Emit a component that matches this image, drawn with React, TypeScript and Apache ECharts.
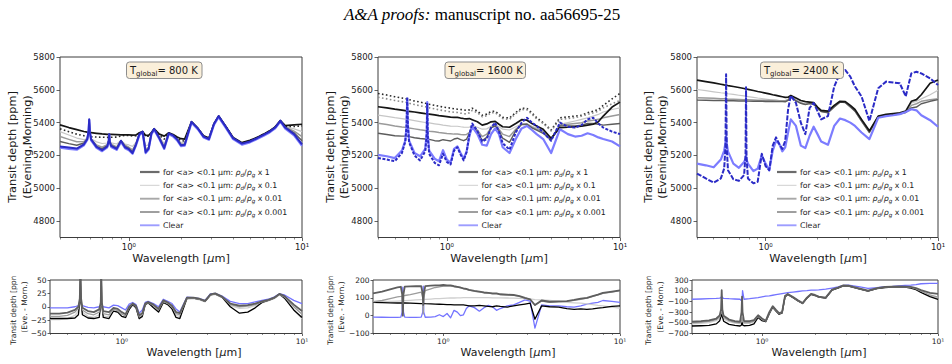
import React, { useEffect, useRef } from 'react';
import * as echarts from 'echarts';

// Wavelength sampling (micron) shared by every spectrum below.
const WAVE = [
  0.40, 0.45, 0.50, 0.55, 0.575, 0.585, 0.59, 0.595, 0.605,
  0.65, 0.70, 0.75, 0.765, 0.77, 0.775, 0.79,
  0.85, 0.90, 0.95, 1.00, 1.05, 1.10, 1.15, 1.20, 1.25, 1.30, 1.35, 1.40,
  1.50, 1.60, 1.70, 1.80, 1.90, 2.00, 2.10, 2.30, 2.50, 2.70, 2.90, 3.10,
  3.30, 3.60, 4.00, 4.50, 5.00, 5.50, 6.00, 6.50, 7.00, 7.50, 8.00, 9.00, 10.0,
];

// ---- T_global = 800 K, transit depth [ppm] ----
const D800_X1 = [
  5386, 5370, 5357, 5346, 5342, 5341, 5341, 5340, 5339,
  5335, 5331, 5329, 5329, 5329, 5328, 5328,
  5327, 5326, 5325, 5325, 5324, 5325, 5338, 5346, 5322, 5323, 5340, 5362,
  5330, 5318, 5338, 5328, 5312, 5302, 5300, 5405, 5366, 5320, 5306, 5393,
  5440, 5383, 5310, 5278, 5292, 5310, 5330, 5350, 5374, 5412, 5382, 5386, 5390,
];
const D800_X1_MORN = [
  5362, 5345, 5330, 5320, 5316, 5315, 5315, 5314, 5314,
  5312, 5311, 5310, 5310, 5310, 5310, 5311,
  5312, 5318, 5322, 5322, 5318, 5320, 5336, 5344, 5316, 5318, 5338, 5360,
  5322, 5300, 5336, 5325, 5306, 5290, 5288, 5404, 5365, 5318, 5303, 5391,
  5438, 5381, 5307, 5275, 5289, 5308, 5328, 5348, 5372, 5410, 5378, 5376, 5380,
];
const D800_X01 = [
  5345, 5325, 5306, 5296, 5304, 5330, 5400, 5330, 5302,
  5283, 5273, 5276, 5295, 5325, 5290, 5277,
  5270, 5292, 5270, 5264, 5255, 5280, 5332, 5345, 5258, 5266, 5337, 5362,
  5314, 5272, 5335, 5324, 5302, 5280, 5280, 5405, 5366, 5317, 5302, 5392,
  5440, 5381, 5307, 5274, 5288, 5307, 5327, 5347, 5372, 5411, 5376, 5362, 5345,
];
const D800_X001 = [
  5315, 5298, 5283, 5285, 5302, 5340, 5410, 5338, 5300,
  5264, 5250, 5266, 5292, 5328, 5288, 5268,
  5252, 5290, 5262, 5250, 5234, 5274, 5331, 5345, 5238, 5250, 5336, 5362,
  5310, 5256, 5335, 5323, 5300, 5270, 5270, 5405, 5366, 5316, 5301, 5392,
  5440, 5381, 5306, 5273, 5287, 5306, 5326, 5346, 5371, 5411, 5374, 5348, 5315,
];
const D800_X0001 = [
  5285, 5272, 5262, 5276, 5301, 5345, 5415, 5342, 5299,
  5256, 5240, 5260, 5291, 5330, 5287, 5262,
  5244, 5290, 5255, 5243, 5222, 5270, 5331, 5345, 5226, 5244, 5335, 5362,
  5306, 5248, 5335, 5322, 5299, 5265, 5267, 5405, 5365, 5315, 5300, 5392,
  5440, 5380, 5305, 5272, 5286, 5305, 5325, 5345, 5370, 5411, 5372, 5338, 5290,
];
const D800_CLEAR = [
  5248, 5240, 5235, 5262, 5295, 5345, 5415, 5340, 5292,
  5246, 5226, 5250, 5285, 5325, 5280, 5252,
  5234, 5282, 5244, 5232, 5210, 5262, 5324, 5340, 5214, 5236, 5330, 5356,
  5300, 5240, 5330, 5316, 5292, 5256, 5260, 5400, 5360, 5310, 5295, 5386,
  5434, 5374, 5300, 5266, 5280, 5300, 5320, 5340, 5365, 5406, 5364, 5322, 5258,
];
const D800_CLEAR_MORN = [
  5255, 5248, 5242, 5268, 5300, 5350, 5420, 5345, 5298,
  5252, 5232, 5255, 5290, 5330, 5285, 5258,
  5240, 5290, 5250, 5238, 5215, 5268, 5330, 5345, 5220, 5242, 5335, 5362,
  5305, 5245, 5335, 5322, 5298, 5262, 5265, 5405, 5365, 5315, 5300, 5392,
  5440, 5380, 5305, 5272, 5285, 5305, 5325, 5345, 5370, 5412, 5370, 5330, 5268,
];

// ---- T_global = 1600 K ----
const D1600_X1 = [
  5497, 5490, 5482, 5476, 5473, 5472, 5471, 5470, 5469,
  5465, 5460, 5455, 5454, 5454, 5453, 5452,
  5447, 5443, 5440, 5437, 5434, 5432, 5432, 5428, 5425, 5423, 5425, 5418,
  5405, 5385, 5392, 5405, 5408, 5390, 5375, 5372, 5395, 5418, 5415, 5395,
  5380, 5360, 5305, 5370, 5372, 5375, 5378, 5385, 5390, 5405, 5440, 5495, 5525,
];
const D1600_X1_MORN = [
  5578, 5568, 5558, 5550, 5546, 5545, 5545, 5544, 5540,
  5532, 5525, 5518, 5517, 5516, 5515, 5512,
  5505, 5500, 5495, 5492, 5488, 5485, 5482, 5480, 5478, 5475, 5478, 5488,
  5470, 5445, 5452, 5468, 5470, 5450, 5432, 5428, 5462, 5488, 5486, 5460,
  5430, 5400, 5355, 5430, 5435, 5440, 5445, 5460, 5470, 5480, 5505, 5545, 5578,
];
const D1600_X01_MORN = [
  5555, 5545, 5535, 5528, 5524, 5523, 5523, 5522, 5518,
  5510, 5503, 5497, 5496, 5496, 5495, 5490,
  5484, 5478, 5474, 5470, 5466, 5463, 5462, 5458, 5455, 5453, 5460, 5475,
  5460, 5436, 5442, 5460, 5462, 5442, 5425, 5420, 5455, 5480, 5478, 5452,
  5422, 5395, 5350, 5420, 5425, 5430, 5440, 5450, 5460, 5470, 5490, 5515, 5535,
];
const D1600_X01 = [
  5446, 5438, 5430, 5424, 5421, 5420, 5420, 5419, 5418,
  5412, 5406, 5401, 5400, 5400, 5399, 5398,
  5393, 5389, 5385, 5382, 5379, 5378, 5378, 5375, 5373, 5372, 5373, 5380,
  5372, 5360, 5362, 5378, 5385, 5375, 5360, 5355, 5375, 5392, 5392, 5378,
  5368, 5352, 5300, 5390, 5400, 5410, 5420, 5430, 5440, 5450, 5465, 5480, 5490,
];
const D1600_X001 = [
  5396, 5388, 5380, 5374, 5372, 5371, 5371, 5370, 5368,
  5362, 5356, 5352, 5351, 5351, 5350, 5348,
  5344, 5340, 5337, 5334, 5332, 5330, 5331, 5328, 5326, 5328, 5340, 5378,
  5355, 5315, 5330, 5370, 5382, 5360, 5330, 5315, 5360, 5390, 5392, 5372,
  5360, 5345, 5300, 5385, 5390, 5395, 5400, 5410, 5415, 5420, 5430, 5440, 5450,
];
const D1600_X0001 = [
  5335, 5328, 5320, 5318, 5318, 5318, 5318, 5317, 5315,
  5308, 5303, 5300, 5300, 5300, 5299, 5298,
  5290, 5288, 5296, 5292, 5288, 5300, 5305, 5296, 5290, 5300, 5335, 5376,
  5345, 5290, 5310, 5368, 5380, 5350, 5305, 5280, 5352, 5388, 5390, 5368,
  5355, 5335, 5295, 5380, 5380, 5380, 5385, 5395, 5395, 5390, 5385, 5390, 5395,
];
const D1600_CLEAR = [
  5204, 5195, 5184, 5230, 5290, 5380, 5545, 5390, 5290,
  5215, 5195, 5240, 5340, 5525, 5330, 5230,
  5180, 5165, 5232, 5175, 5155, 5240, 5255, 5215, 5180, 5225, 5320, 5375,
  5330, 5265, 5260, 5330, 5365, 5330, 5250, 5215, 5300, 5365, 5380, 5355,
  5330, 5300, 5215, 5360, 5330, 5315, 5320, 5335, 5325, 5310, 5300, 5285, 5255,
];
const D1600_CLEAR_MORN = [
  5185, 5175, 5165, 5215, 5285, 5380, 5555, 5385, 5280,
  5200, 5170, 5225, 5330, 5520, 5320, 5210,
  5155, 5140, 5210, 5160, 5145, 5230, 5250, 5205, 5170, 5220, 5330, 5395,
  5350, 5285, 5300, 5370, 5400, 5345, 5275, 5235, 5340, 5400, 5430, 5400,
  5380, 5340, 5290, 5400, 5375, 5370, 5385, 5420, 5430, 5395, 5370, 5345, 5330,
];

// ---- T_global = 2400 K ----
const D2400_X1 = [
  5659, 5650, 5642, 5634, 5630, 5629, 5629, 5628, 5626,
  5620, 5614, 5608, 5606, 5606, 5605, 5603,
  5596, 5590, 5585, 5580, 5575, 5570, 5566, 5562, 5558, 5554, 5555, 5565,
  5550, 5535, 5528, 5525, 5522, 5495, 5475, 5470, 5505, 5530, 5528, 5505,
  5480, 5420, 5350, 5440, 5450, 5455, 5460, 5470, 5530, 5540, 5570, 5640, 5660,
];
const D2400_X01 = [
  5602, 5595, 5588, 5582, 5580, 5579, 5579, 5578, 5576,
  5572, 5567, 5563, 5562, 5562, 5560, 5558,
  5554, 5550, 5547, 5544, 5541, 5539, 5537, 5535, 5533, 5531, 5540, 5562,
  5540, 5522, 5515, 5520, 5518, 5492, 5472, 5465, 5500, 5528, 5526, 5500,
  5475, 5415, 5345, 5438, 5448, 5452, 5458, 5468, 5520, 5530, 5545, 5570, 5598,
];
const D2400_X001 = [
  5552, 5550, 5548, 5546, 5545, 5545, 5545, 5544, 5543,
  5542, 5541, 5540, 5540, 5540, 5539, 5539,
  5538, 5537, 5537, 5536, 5536, 5535, 5535, 5534, 5534, 5533, 5540, 5560,
  5535, 5520, 5512, 5518, 5515, 5490, 5470, 5462, 5498, 5526, 5524, 5498,
  5472, 5412, 5342, 5436, 5446, 5450, 5455, 5465, 5505, 5515, 5530, 5540, 5545,
];
const D2400_X0001 = [
  5537, 5536, 5535, 5535, 5534, 5534, 5534, 5534, 5533,
  5533, 5532, 5532, 5532, 5532, 5531, 5531,
  5530, 5530, 5530, 5529, 5529, 5529, 5528, 5528, 5528, 5527, 5535, 5558,
  5532, 5518, 5510, 5516, 5512, 5488, 5468, 5460, 5496, 5525, 5522, 5495,
  5470, 5410, 5340, 5435, 5445, 5448, 5452, 5462, 5490, 5495, 5515, 5530, 5540,
];
const D2400_CLEAR = [
  5150, 5140, 5128, 5175, 5230, 5275, 5318, 5275, 5225,
  5150, 5125, 5160, 5180, 5200, 5175, 5150,
  5105, 5120, 5200, 5150, 5110, 5230, 5290, 5270, 5225, 5250, 5340, 5420,
  5380, 5260, 5245, 5320, 5375, 5330, 5285, 5265, 5380, 5425, 5415, 5400,
  5380, 5340, 5300, 5430, 5440, 5445, 5452, 5465, 5482, 5475, 5445, 5415, 5375,
];
const D2400_CLEAR_MORN = [
  5090, 5060, 5035, 5060, 5120, 5250, 5695, 5250, 5110,
  5055, 5045, 5080, 5200, 5615, 5190, 5060,
  5030, 5040, 5210, 5135, 5110, 5260, 5310, 5270, 5240, 5290, 5480, 5565,
  5520, 5400, 5330, 5490, 5520, 5470, 5420, 5440, 5620, 5700, 5720, 5680,
  5620, 5560, 5410, 5610, 5650, 5645, 5640, 5560, 5700, 5710, 5700, 5670, 5630,
];

// ---- Evening minus morning [ppm] ----
const R800_CLEAR = [
  -2, -2, -2, 0, 2, 6, 10, 6, 2,
  -1, -2, 0, 3, 6, 3, 0,
  -2, 3, 2, -2, -6, 5, 8, 4, -12, -6, 8, 10,
  6, 0, 14, 10, 6, -4, -10, 18, 17, 15, 12, 24,
  25, 20, 10, 6, 6, 9, 12, 14, 18, 24, 22, 12, 6,
];
const R800_X1 = [
  -13, -13, -11, -6, 0, 15, 60, 15, -2,
  -8, -10, -5, 8, 60, 8, -8,
  -10, -2, -4, -10, -14, 0, 6, 2, -16, -12, 6, 9,
  4, -4, 12, 8, 2, -10, -12, 17, 17, 15, 11, 23,
  25, 19, 6, 2, 3, 6, 10, 13, 17, 24, 20, 4, -8,
];
const R800_X01 = [
  -24, -24, -22, -16, -8, 5, 30, 5, -10,
  -18, -20, -15, 0, 30, 0, -17,
  -19, -8, -10, -18, -21, -5, 3, -2, -23, -19, 3, 6,
  0, -9, 8, 4, -3, -16, -18, 14, 15, 13, 9, 21,
  23, 17, 2, -3, -2, 2, 7, 11, 15, 22, 16, -6, -22,
];
const R800_X001 = [
  -18, -18, -16, -10, -3, 12, 50, 12, -6,
  -13, -15, -10, 4, 50, 4, -13,
  -15, -5, -7, -14, -17, -2, 5, 0, -19, -15, 5, 8,
  2, -6, 10, 6, 0, -13, -15, 16, 16, 14, 10, 22,
  24, 18, 4, 0, 1, 4, 9, 12, 16, 23, 18, 0, -14,
];
const R800_X0001 = [
  -22, -22, -22, -21, -15, 10, 60, 10, -15,
  -21, -22, -20, 5, 60, 5, -20,
  -22, -8, -10, -18, -20, -5, 4, -2, -22, -18, 4, 8,
  -2, -10, 8, 4, -4, -20, -22, 16, 16, 14, 10, 22,
  24, 18, 0, -12, -10, -2, 8, 12, 16, 24, 16, -6, -20,
];

const R1600_CLEAR = [
  -8, -9, -10, -10, -8, 20, 160, 20, -8,
  -10, -10, -8, 20, 165, 20, -9,
  -8, -5, 5, -5, 12, -12, 30, 20, 0, 5, 40, 55,
  45, 25, 45, 58, 50, 30, 40, 55, 60, 75, 88, 82,
  -70, 60, 55, 55, 50, 48, 55, 65, 70, 75, 85, 80, 75,
];
const R1600_X1 = [
  125, 135, 148, 158, 162, 120, 0, 120, 163,
  164, 165, 166, 120, 60, 120, 166,
  168, 170, 170, 172, 170, 170, 165, 162, 158, 153, 150, 145,
  139, 135, 130, 128, 125, 125, 120, 118, 116, 110, 100, 92,
  60, 85, 78, 80, 82, 88, 95, 100, 110, 118, 128, 135, 142,
];
const R1600_X01 = [
  76, 78, 80, 82, 83, 83, 84, 84, 84,
  86, 88, 90, 90, 90, 90, 91,
  93, 95, 96, 97, 98, 99, 99, 100, 100, 101, 101, 101,
  101, 101, 101, 101, 100, 100, 100, 99, 98, 97, 96, 94,
  90, 88, 85, 80, 75, 72, 70, 66, 62, 58, 55, 48, 42,
];
const R1600_X001 = [
  78, 85, 95, 105, 108, 110, 112, 112, 113,
  118, 125, 132, 100, 10, 100, 140,
  150, 158, 162, 166, 166, 166, 163, 160, 156, 151, 148, 143,
  137, 133, 128, 126, 123, 123, 118, 116, 114, 108, 98, 90,
  58, 82, 75, 77, 80, 86, 92, 98, 108, 116, 125, 132, 140,
];
const R1600_X0001 = [
  74, 73, 72, 71, 71, 71, 71, 71, 71,
  70, 69, 68, 68, 68, 68, 67,
  66, 65, 64, 63, 62, 62, 61, 61, 60, 60, 58, 55,
  55, 58, 55, 52, 50, 55, 52, 48, 55, 60, 65, 70,
  -20, 55, 50, 48, 40, 35, 38, 35, 38, 42, 45, 52, 55,
];

const R2400_CLEAR = [
  -60, -55, -50, -45, -40, -30, -5, -30, -42,
  -50, -55, -60, -90, -100, 100, -60,
  -50, -40, -30, -15, 0, 5, 15, 25, 35, 45, 55, 65,
  75, 85, 95, 100, 110, 112, 115, 130, 150, 170, 200, 205,
  190, 170, 145, 155, 175, 180, 190, 200, 205, 215, 230, 238, 238,
];
const R2400_X1 = [
  -480, -470, -455, -420, -360, -250, 110, -250, -370,
  -440, -470, -480, -300, -10, -300, -470,
  -470, -450, -360, -420, -460, -300, -190, -260, -320, -300, 0, 40,
  -20, -80, -130, -30, 40, 20, -10, -30, 120, 160, 200, 195,
  170, 140, 100, 150, 170, 175, 180, 175, 170, 150, 110, 60, 40,
];
const R2400_X01 = [
  -520, -510, -495, -460, -420, -350, -310, -350, -430,
  -480, -505, -515, -500, -420, -500, -510,
  -510, -485, -390, -450, -475, -325, -205, -275, -335, -315, -15, 32,
  -28, -88, -138, -38, 32, 12, -18, -38, 112, 152, 192, 188,
  162, 132, 92, 142, 162, 168, 172, 168, 158, 130, 85, 10, -40,
];
const R2400_X001 = [
  -500, -490, -475, -440, -390, -320, -300, -320, -400,
  -460, -490, -500, -480, -400, -480, -495,
  -495, -470, -380, -440, -470, -320, -200, -270, -330, -310, -10, 35,
  -25, -85, -135, -35, 35, 15, -15, -35, 115, 155, 195, 190,
  165, 135, 95, 145, 165, 170, 175, 170, 160, 135, 90, 20, -20,
];
const R2400_X0001 = [
  -560, -555, -550, -520, -460, -380, -330, -380, -470,
  -530, -550, -560, -540, -460, -540, -555,
  -550, -520, -400, -460, -480, -330, -210, -280, -340, -320, -20, 30,
  -30, -90, -140, -40, 30, 10, -20, -40, 110, 150, 190, 185,
  160, 130, 90, 140, 160, 165, 170, 165, 150, 120, 70, -10, -60,
];

// Axis ticks
const X_MAJOR = [1, 10];
const X_MINOR = [0.4, 0.5, 0.6, 0.7, 0.8, 0.9, 2, 3, 4, 5, 6, 7, 8, 9];
const Y_TICKS_TOP = [4800, 5000, 5200, 5400, 5600, 5800];
const Y_TICKS_800 = [-50, -25, 0, 25, 50];
const Y_TICKS_1600 = [-100, 0, 100, 200];
const Y_TICKS_2400 = [-700, -500, -300, -100, 100, 300];
const TEMPS = ['800', '1600', '2400'];
const LEGEND_FACTORS = ['1', '0.1', '0.01', '0.001'];

const FONT = 'DejaVu Sans';
const FRAME = '#3c3c3c';
const INK = '#1a1a1a';

type Line = { vals: number[]; color: string; width: number; dash?: any };

const C = {
  black: '#151515',
  light: '#c6c6c6',
  mid: '#9a9a9a',
  dark: '#5c5c5c',
  blueLight: '#7c7cff',
  blueDark: '#2b2bc6',
};

const topLines = (x1: number[], x01: number[], x001: number[], x0001: number[], morn: number[][], clear: number[], clearMorn: number[], mornDash: any): Line[] => [
  { vals: x01, color: C.light, width: 1.2 },
  { vals: x001, color: C.mid, width: 1.5 },
  { vals: x0001, color: C.dark, width: 1.4 },
  ...morn.map((m, i) => ({ vals: m, color: i === 0 ? '#2a2a2a' : '#8a8a8a', width: 1.6, dash: [1.6, 2.4] })),
  { vals: x1, color: C.black, width: 1.7 },
  { vals: clear, color: C.blueLight, width: 2.2 },
  { vals: clearMorn, color: C.blueDark, width: 2, dash: mornDash },
];

const diffLines = (clear: number[], x1: number[], x01: number[], x001: number[], x0001: number[]): Line[] => [
  { vals: clear, color: '#7474ff', width: 1.3 },
  { vals: x01, color: '#cfcfcf', width: 1.3 },
  { vals: x0001, color: '#000000', width: 1.3 },
  { vals: x001, color: '#9c9c9c', width: 1.3 },
  { vals: x1, color: '#5e5e5e', width: 1.8 },
];

const PANELS = [
  { box: { left: 60, top: 57, width: 242, height: 180.5 }, min: 4700, max: 5800, ticks: Y_TICKS_TOP, small: false,
    lines: topLines(D800_X1, D800_X01, D800_X001, D800_X0001, [D800_X1_MORN], D800_CLEAR, D800_CLEAR_MORN, 'solid') },
  { box: { left: 378, top: 57, width: 242, height: 180.5 }, min: 4700, max: 5800, ticks: Y_TICKS_TOP, small: false,
    lines: topLines(D1600_X1, D1600_X01, D1600_X001, D1600_X0001, [D1600_X1_MORN, D1600_X01_MORN], D1600_CLEAR, D1600_CLEAR_MORN, [3, 1.5]) },
  { box: { left: 697, top: 57, width: 241, height: 180.5 }, min: 4700, max: 5800, ticks: Y_TICKS_TOP, small: false,
    lines: topLines(D2400_X1, D2400_X01, D2400_X001, D2400_X0001, [], D2400_CLEAR, D2400_CLEAR_MORN, [5, 1.5]) },
  { box: { left: 50, top: 280, width: 252, height: 53.5 }, min: -50, max: 50, ticks: Y_TICKS_800, small: true,
    lines: diffLines(R800_CLEAR, R800_X1, R800_X01, R800_X001, R800_X0001) },
  { box: { left: 373, top: 280, width: 247, height: 53.5 }, min: -100, max: 200, ticks: Y_TICKS_1600, small: true,
    lines: diffLines(R1600_CLEAR, R1600_X1, R1600_X01, R1600_X001, R1600_X0001) },
  { box: { left: 692, top: 280, width: 246, height: 53.5 }, min: -700, max: 300, ticks: Y_TICKS_2400, small: true,
    lines: diffLines(R2400_CLEAR, R2400_X1, R2400_X01, R2400_X001, R2400_X0001) },
];

const LOG_LO = Math.log10(0.4);
const fmtY = (v: number) => (v < 0 ? '\u2212' + Math.abs(v) : String(v));
const fmtX = (v: number) => (v < 0.5 ? '10\u2070' : '10\u00b9');

function txt(x: number, y: number, text: string, rich: any, align = 'left', rotation = 0) {
  return {
    type: 'text', x, y, rotation, silent: true, z: 10,
    style: { text, rich, align, verticalAlign: 'middle', textAlign: align, textVerticalAlign: 'middle', fill: INK, fontFamily: FONT },
  };
}

function richSet(size: number, subSize: number) {
  return {
    n: { fontSize: size, fontFamily: FONT, fill: INK, lineHeight: size * 1.45 },
    i: { fontSize: size, fontFamily: FONT, fontStyle: 'italic', fill: INK, lineHeight: size * 1.45 },
    s: { fontSize: subSize, fontFamily: FONT, fontStyle: 'italic', fill: INK, verticalAlign: 'bottom' },
    r: { fontSize: subSize, fontFamily: FONT, fill: INK, verticalAlign: 'bottom' },
  };
}

function buildGraphic() {
  const els: any[] = [];
  // page header
  els.push(txt(482, 14, '{i|A&A proofs:}{n| manuscript no. aa56695-25}', {
    i: { fontFamily: 'Liberation Serif', fontStyle: 'italic', fontSize: 17, fill: '#000' },
    n: { fontFamily: 'Liberation Serif', fontSize: 17, fill: '#000' },
  }, 'center'));

  const top = [
    { boxX: 126.5, boxW: 75.5, legX: 140, xlab: 181, yl1: 12.5, yl2: 27.5 },
    { boxX: 445, boxW: 80.5, legX: 458.5, xlab: 499, yl1: 330.5, yl2: 344.5 },
    { boxX: 760.5, boxW: 83, legX: 777, xlab: 818, yl1: 648.5, yl2: 662.5 },
  ];
  const legendStyles = [
    { color: '#6b6b6b', width: 2.2 },
    { color: '#cfcfcf', width: 1 },
    { color: '#a8a8a8', width: 1.9 },
    { color: '#3f3f3f', width: 1 },
    { color: '#9d9dff', width: 1.9 },
  ];
  const legendRows = [172, 185.3, 198.7, 212, 225.3];
  const legRich = richSet(7.8, 5.6);

  top.forEach((t, k) => {
    // temperature tag
    els.push({ type: 'rect', silent: true, z: 9, shape: { x: t.boxX, y: 62, width: t.boxW, height: 16.5, r: 3 },
      style: { fill: '#faefda', stroke: '#8d8d8d', lineWidth: 1 } });
    els.push(txt(t.boxX + 3.5, 70.3, `{n|T}{r|global}{n|= ${TEMPS[k]} K}`, {
      n: { fontSize: 10, fontFamily: FONT, fill: INK, lineHeight: 14 },
      r: { fontSize: 7, fontFamily: FONT, fill: INK, verticalAlign: 'bottom' },
    }));
    // legend
    legendRows.forEach((ly, r) => {
      const st = legendStyles[r];
      els.push({ type: 'line', silent: true, z: 9, shape: { x1: t.legX, y1: ly, x2: t.legX + 19.5, y2: ly },
        style: { stroke: st.color, lineWidth: st.width } });
      const label = r < 4
        ? `{n|for <a> <0.1 \u03bcm: }{i|\u03c1}{s|d}{n|/}{i|\u03c1}{s|g}{n| x ${LEGEND_FACTORS[r]}}`
        : '{n|Clear}';
      els.push(txt(t.legX + 23, ly, label, legRich));
    });
    // axis titles
    els.push(txt(t.xlab, 258.3, '{n|Wavelength [}{i|\u03bc}{n|m]}', richSet(11.3, 8), 'center'));
    els.push(txt(t.yl1, 147, '{n|Transit depth [ppm]}', richSet(11.3, 8), 'center', Math.PI / 2));
    els.push(txt(t.yl2, 147, '{n|(Evening,Morning)}', richSet(11.3, 8), 'center', Math.PI / 2));
  });

  const bottom = [
    { xlab: 194, yl1: 13, yl2: 24.3 },
    { xlab: 508, yl1: 330.3, yl2: 341.7 },
    { xlab: 819, yl1: 648.5, yl2: 660 },
  ];
  bottom.forEach((b) => {
    els.push(txt(b.xlab, 352, '{n|Wavelength [}{i|\u03bc}{n|m]}', richSet(11, 8), 'center'));
    els.push(txt(b.yl1, 307.5, '{n|Transit depth [ppm]}', richSet(7.6, 6), 'center', Math.PI / 2));
    els.push(txt(b.yl2, 307, '{n|(Eve. - Morn.)}', richSet(7.6, 6), 'center', Math.PI / 2));
    // the first label line is cut off at the top of the strip
    els.push({ type: 'rect', silent: true, z: 11, shape: { x: b.yl1 - 8, y: 255, width: 16, height: 21.5 },
      style: { fill: '#ffffff' } });
  });
  return els;
}

function buildOption() {
  const grid = PANELS.map((p) => ({ ...p.box, show: true, borderColor: FRAME, borderWidth: 1, backgroundColor: 'transparent', containLabel: false }));
  const xAxis: any[] = [];
  const yAxis: any[] = [];
  const series: any[] = [];
  PANELS.forEach((p, g) => {
    const tickFont = p.small ? 7.5 : 8.5;
    xAxis.push({
      type: 'value', gridIndex: g, position: 'bottom', min: LOG_LO, max: 1,
      axisLine: { show: false, onZero: false }, splitLine: { show: false },
      axisTick: { show: true, customValues: X_MAJOR.map(Math.log10), length: p.small ? 2.5 : 3.5, lineStyle: { color: FRAME, width: 0.8 } },
      axisLabel: { show: true, customValues: X_MAJOR.map(Math.log10), formatter: fmtX, fontSize: tickFont, fontFamily: FONT, color: INK, margin: p.small ? 3.5 : 5 },
    });
    xAxis.push({
      type: 'value', gridIndex: g, position: 'bottom', min: LOG_LO, max: 1,
      axisLine: { show: false, onZero: false }, splitLine: { show: false },
      axisTick: { show: true, customValues: X_MINOR.map(Math.log10), length: p.small ? 1.5 : 2, lineStyle: { color: FRAME, width: 0.6 } },
      axisLabel: { show: false },
    });
    yAxis.push({
      type: 'value', gridIndex: g, position: 'left', min: p.min, max: p.max,
      axisLine: { show: false, onZero: false }, splitLine: { show: false },
      axisTick: { show: true, customValues: p.ticks, length: p.small ? 2.5 : 3.5, lineStyle: { color: FRAME, width: 0.8 } },
      axisLabel: { show: true, customValues: p.ticks, formatter: fmtY, fontSize: tickFont, fontFamily: FONT, color: INK, margin: p.small ? 3.5 : 5 },
    });
    p.lines.forEach((l) => {
      series.push({
        type: 'line', xAxisIndex: 2 * g, yAxisIndex: g, symbol: 'none', showSymbol: false, silent: true, clip: true,
        data: WAVE.map((w, i) => [Math.log10(w), l.vals[i]]),
        lineStyle: { color: l.color, width: l.width, type: l.dash ?? 'solid', join: 'round' },
        emphasis: { disabled: true },
      });
    });
  });
  return {
    animation: false,
    backgroundColor: '#ffffff',
    grid, xAxis, yAxis, series,
    graphic: { elements: buildGraphic() },
  };
}

export default function App() {
  const ref = useRef<HTMLDivElement>(null);
  useEffect(() => {
    if (!ref.current) return;
    const chart = echarts.init(ref.current, null, { renderer: 'svg' });
    chart.setOption(buildOption() as any);
    return () => chart.dispose();
  }, []);
  return <div ref={ref} style={{ position: 'absolute', left: 0, top: 0, width: 952, height: 364, background: '#fff' }} />;
}
